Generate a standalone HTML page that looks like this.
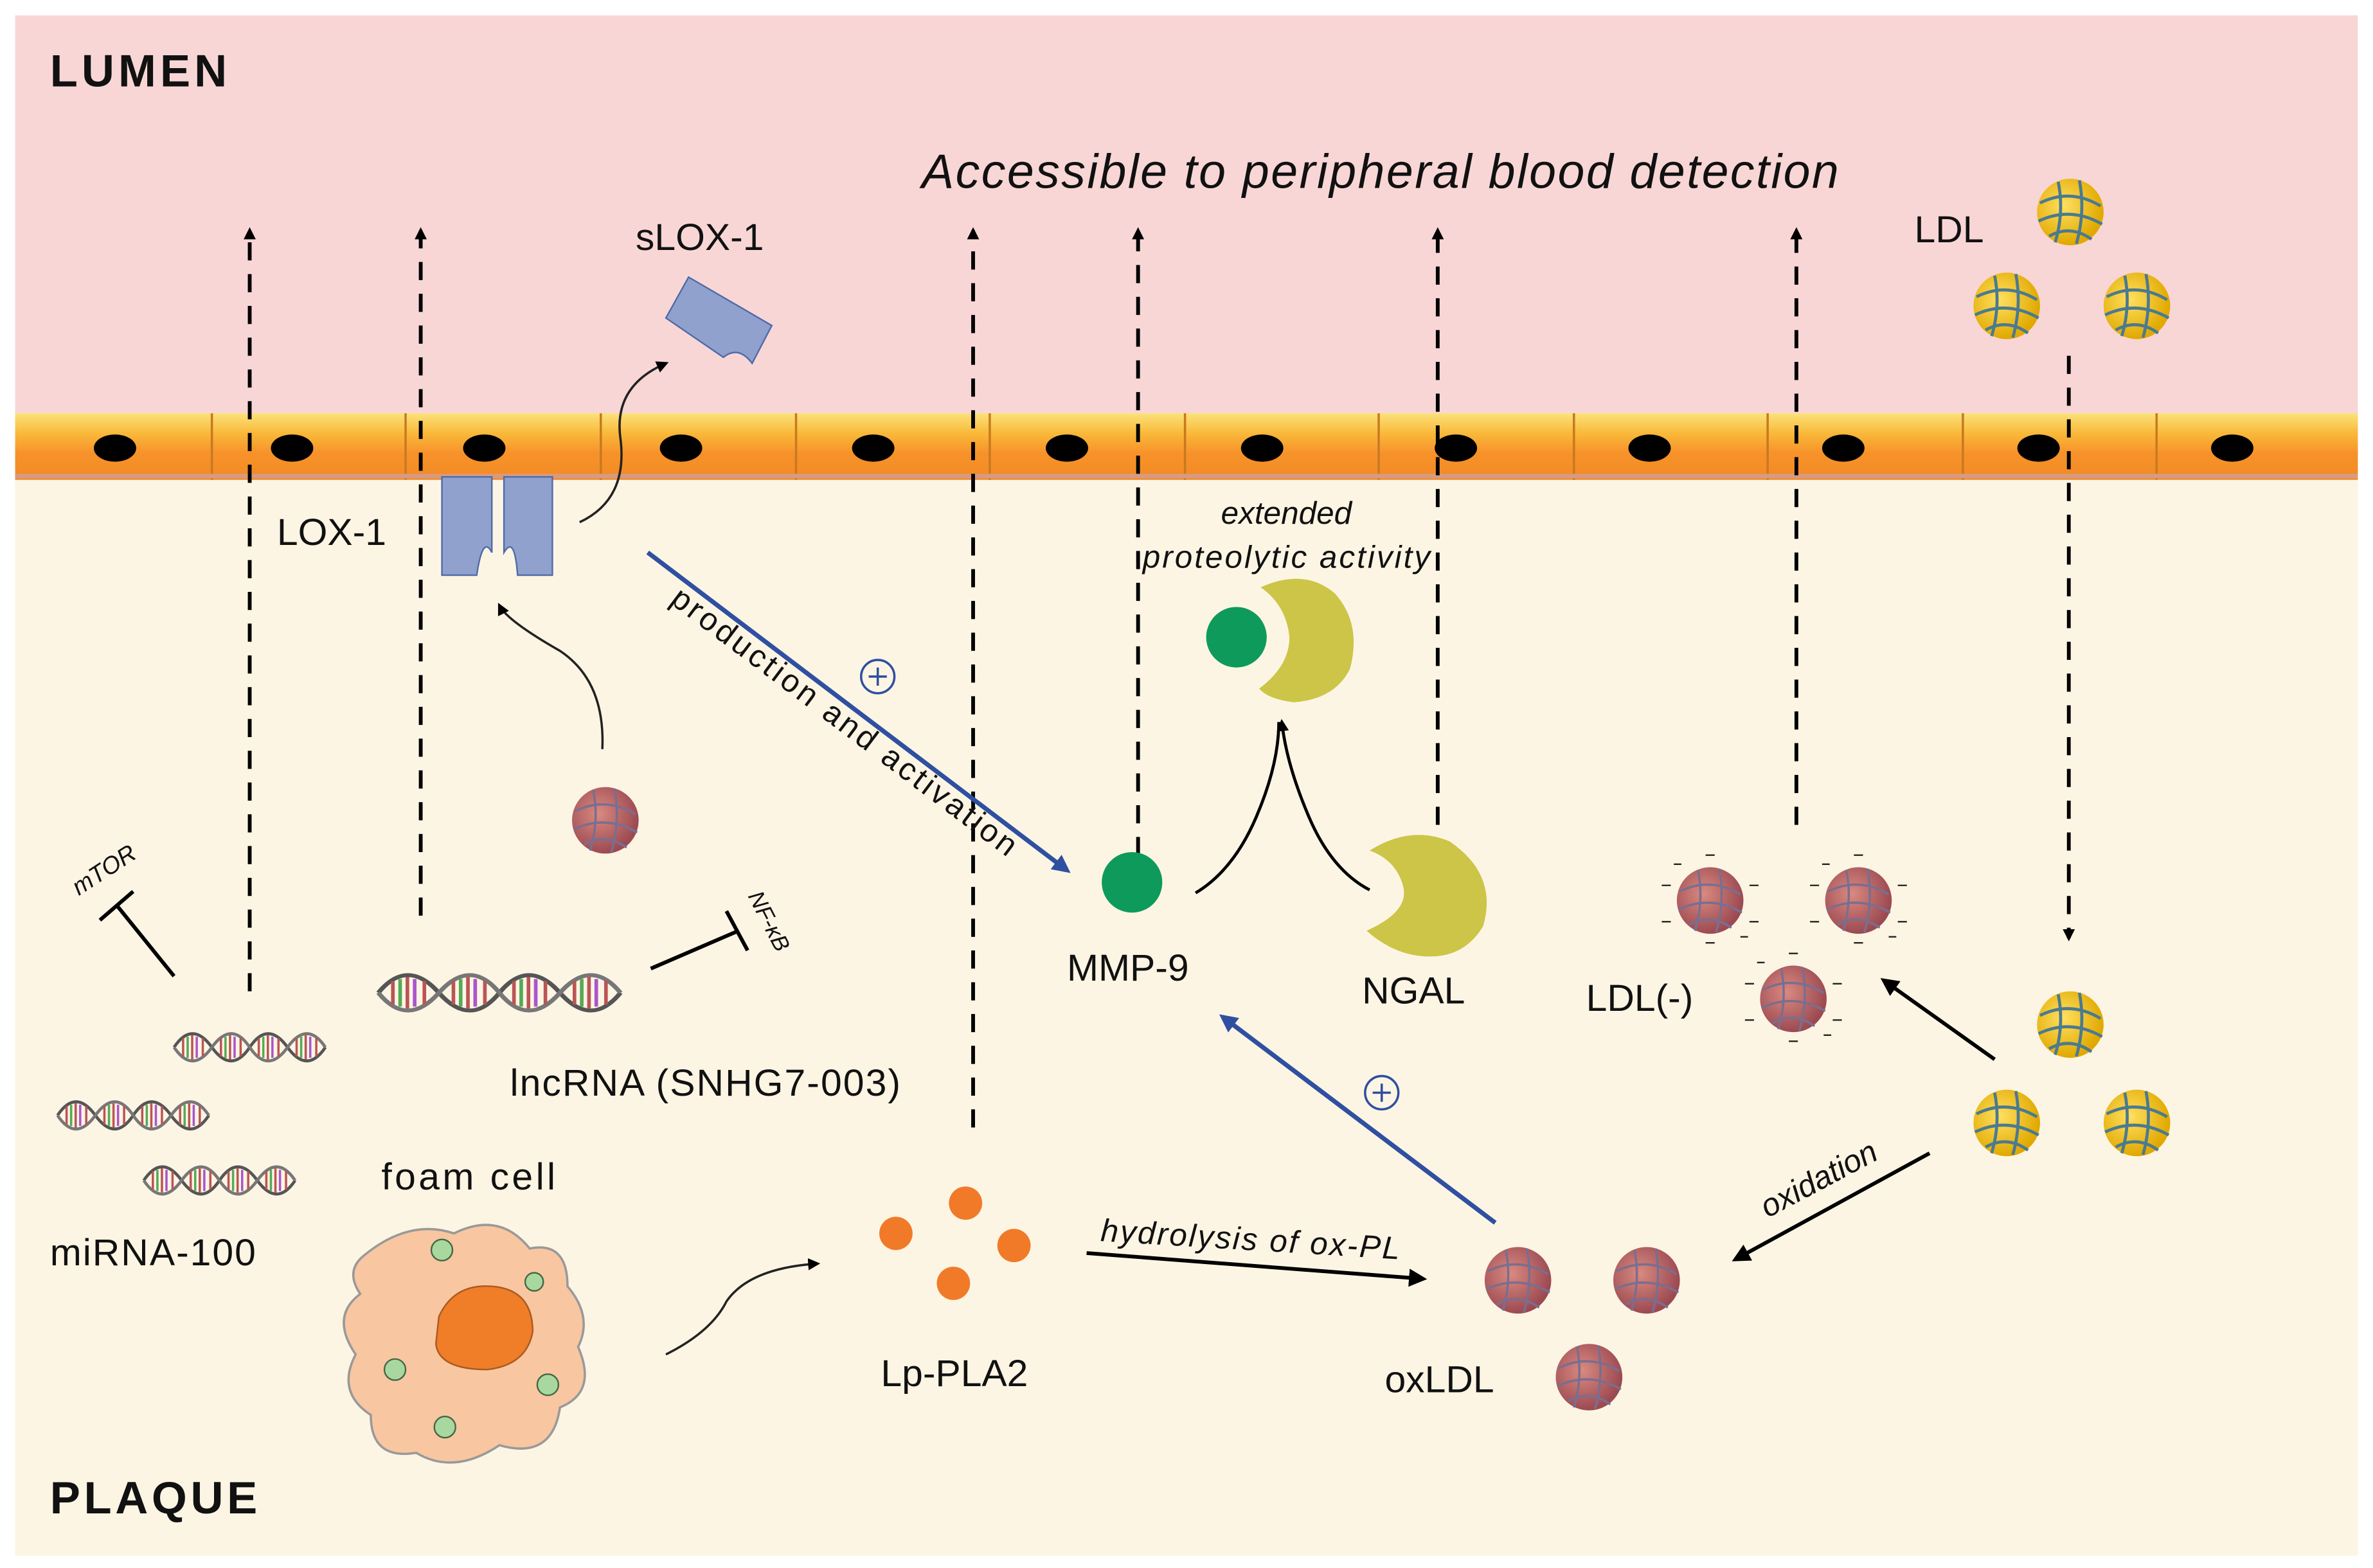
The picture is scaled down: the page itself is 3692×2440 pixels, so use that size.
<!DOCTYPE html>
<html><head><meta charset="utf-8"><style>html,body{margin:0;padding:0;background:#fff}svg{display:block}</style></head>
<body>
<svg width="3692" height="2440" viewBox="0 0 1568 1036" xmlns="http://www.w3.org/2000/svg" font-family="Liberation Sans, Arial, sans-serif">
<defs>
<linearGradient id="cell" x1="0" y1="0" x2="0" y2="1">
<stop offset="0" stop-color="#fbe27a"/><stop offset="0.3" stop-color="#f9b93a"/><stop offset="0.6" stop-color="#f7922a"/><stop offset="1" stop-color="#f28a24"/></linearGradient>
<radialGradient id="yel" cx="0.4" cy="0.4" r="0.6"><stop offset="0" stop-color="#ffe060"/><stop offset="1" stop-color="#e0a800"/></radialGradient>
<radialGradient id="red" cx="0.4" cy="0.4" r="0.6"><stop offset="0" stop-color="#d98a80"/><stop offset="1" stop-color="#9c4a52"/></radialGradient>
<marker id="ah" markerWidth="8" markerHeight="8" refX="6" refY="4" orient="auto" markerUnits="userSpaceOnUse"><path d="M0,0 L8,4 L0,8 Z" fill="#000"/></marker>
<marker id="ahb" markerWidth="12" markerHeight="12" refX="9" refY="6" orient="auto" markerUnits="userSpaceOnUse"><path d="M0,0 L12,6 L0,12 Z" fill="#2f4fa0"/></marker>
<marker id="ahk" markerWidth="12" markerHeight="12" refX="9" refY="6" orient="auto" markerUnits="userSpaceOnUse"><path d="M0,0 L12,6 L0,12 Z" fill="#000"/></marker>
<g id="yp"><circle r="22" fill="url(#yel)"/><path d="M-20,-6 Q0,-16 20,-4 M-21,6 Q0,-4 21,8 M-14,16 Q0,8 14,18 M-8,-20 Q-4,0 -10,20 M6,-21 Q10,0 4,21" fill="none" stroke="#4a7a90" stroke-width="2"/></g>
<g id="rp"><circle r="22" fill="url(#red)"/><path d="M-20,-6 Q0,-16 20,-4 M-21,6 Q0,-4 21,8 M-14,16 Q0,8 14,18 M-8,-20 Q-4,0 -10,20 M6,-21 Q10,0 4,21" fill="none" stroke="#7a6e90" stroke-width="1.5"/></g>
<g id="rpd"><use href="#rp"/><path d="M-32,-10h6M26,-10h6M-32,14h6M26,14h6M-3,-30h6M-3,28h6M-24,-24h5M20,24h5" stroke="#222" stroke-width="1"/></g>
<g id="helix"><path d="M0,0 q12,-18 25,0 t25,0 t25,0 t25,0" fill="none" stroke="#555" stroke-width="2"/><path d="M0,0 q12,18 25,0 t25,0 t25,0 t25,0" fill="none" stroke="#777" stroke-width="2"/><path d="M6,-6v12M12,-8v16M19,-6v12M31,-6v12M37,-8v16M44,-6v12M56,-6v12M62,-8v16M69,-6v12M81,-6v12M87,-8v16M94,-6v12" stroke="#b55" stroke-width="1.5"/><path d="M9,-7v14M34,-7v14M59,-7v14M84,-7v14" stroke="#5a5" stroke-width="1.5"/><path d="M15,-7v14M40,-7v14M65,-7v14M90,-7v14" stroke="#a5c" stroke-width="1.5"/></g>
</defs>
<rect x="0" y="0" width="1568" height="1036" fill="#fff"/>
<rect x="10" y="10" width="1548" height="268" fill="#f9d6d6"/>
<rect x="10" y="312" width="1548" height="716" fill="#fdf5e4"/>
<g>
<rect x="10" y="273" width="1548" height="44" fill="url(#cell)"/>
<g fill="#000">
<ellipse cx="76" cy="296" rx="14" ry="9"/><ellipse cx="193" cy="296" rx="14" ry="9"/><ellipse cx="320" cy="296" rx="14" ry="9"/><ellipse cx="450" cy="296" rx="14" ry="9"/><ellipse cx="577" cy="296" rx="14" ry="9"/><ellipse cx="705" cy="296" rx="14" ry="9"/><ellipse cx="834" cy="296" rx="14" ry="9"/><ellipse cx="962" cy="296" rx="14" ry="9"/><ellipse cx="1090" cy="296" rx="14" ry="9"/><ellipse cx="1218" cy="296" rx="14" ry="9"/><ellipse cx="1347" cy="296" rx="14" ry="9"/><ellipse cx="1475" cy="296" rx="14" ry="9"/>
</g>
<g stroke="#c87a20" stroke-width="1.5">
<path d="M140,273v44M268,273v44M397,273v44M526,273v44M654,273v44M783,273v44M911,273v44M1040,273v44M1168,273v44M1297,273v44M1425,273v44"/>
</g>
<rect x="10" y="313" width="1548" height="3" fill="#d89a80"/>
</g>
<text x="33" y="57" font-size="30" font-weight="bold" fill="#111" textLength="117">LUMEN</text>
<text x="33" y="1000" font-size="30" font-weight="bold" fill="#111" textLength="137">PLAQUE</text>
<text x="912" y="124" font-size="32" font-style="italic" text-anchor="middle" fill="#111" textLength="606">Accessible to peripheral blood detection</text>
<g stroke="#000" stroke-width="2.5" stroke-dasharray="12,9" marker-end="url(#ah)" fill="none">
<path d="M165,655V152"/><path d="M278,605V152"/><path d="M643,745V152"/><path d="M752,565V152"/><path d="M950,545V152"/><path d="M1187,545V152"/><path d="M1367,235V620"/>
</g>
<text x="420" y="165" font-size="25" fill="#111">sLOX-1</text>
<path d="M455,183 L510,215 L497,240 Q488,228 478,236 L440,210 Z" fill="#8fa1cc" stroke="#4e6aa8" stroke-width="1"/>
<text x="183" y="360" font-size="25" fill="#111">LOX-1</text>
<path d="M292,315 h33 v50 q-6,-12 -10,15 h-23 Z" fill="#8fa1cc" stroke="#4e6aa8"/>
<path d="M333,315 h32 v65 h-23 q-2,-27 -9,-15 Z" fill="#8fa1cc" stroke="#4e6aa8"/>
<path d="M383,345 Q415,330 410,290 Q405,255 440,240" fill="none" stroke="#222" stroke-width="1.5" marker-end="url(#ah)"/>
<path d="M398,495 Q400,450 370,430 Q335,410 330,400" fill="none" stroke="#222" stroke-width="1.5" marker-end="url(#ah)"/>
<use href="#rp" x="400" y="542"/>
<path d="M428,365 L705,575" stroke="#2f4fa0" stroke-width="3" marker-end="url(#ahb)"/>
<text transform="translate(442,398) rotate(37)" font-size="21" fill="#111" textLength="280">production and activation</text>
<circle cx="580" cy="447" r="11" fill="none" stroke="#2f4fa0" stroke-width="1.5"/><path d="M574,447h12M580,441v12" stroke="#2f4fa0" stroke-width="1.5"/>
<circle cx="748" cy="583" r="20" fill="#0d9a5a"/>
<text x="705" y="648" font-size="25" fill="#111">MMP-9</text>
<path d="M905,562 Q932,545 958,556 Q990,578 980,612 Q968,632 945,632 Q922,632 903,615 Q932,602 927,585 Q922,568 905,562 Z" fill="#ccc548"/>
<text x="900" y="663" font-size="25" fill="#111">NGAL</text>
<path d="M790,590 Q815,575 830,540 Q845,505 845,477" fill="none" stroke="#000" stroke-width="2"/>
<path d="M905,588 Q880,575 865,540 Q850,505 847,477" fill="none" stroke="#000" stroke-width="2" marker-end="url(#ah)"/>
<circle cx="817" cy="421" r="20" fill="#0d9a5a"/>
<path d="M833,388 Q862,375 882,392 Q900,412 892,442 Q882,462 855,464 Q838,462 832,455 Q852,440 852,421 Q850,400 833,388 Z" fill="#ccc548"/>
<text x="850" y="346" font-size="21" font-style="italic" text-anchor="middle" fill="#111">extended</text>
<text x="850" y="375" font-size="21" font-style="italic" text-anchor="middle" fill="#111" textLength="190">proteolytic activity</text>
<path d="M115,645 L77,598" stroke="#000" stroke-width="2.5"/><path d="M66,608 L88,589" stroke="#000" stroke-width="2.5"/>
<text transform="translate(52,592) rotate(-33)" font-size="16" font-style="italic" fill="#111">mTOR</text>
<use href="#helix" x="115" y="692"/>
<use href="#helix" x="38" y="737"/>
<use href="#helix" x="95" y="780"/>
<g transform="translate(250,656) scale(1.6,1.3)"><use href="#helix"/></g>
<path d="M430,640 L488,615" stroke="#000" stroke-width="2.5"/><path d="M480,602 L494,628" stroke="#000" stroke-width="2.5"/>
<text transform="translate(494,592) rotate(63)" font-size="15" font-style="italic" fill="#111">NF-κB</text>
<text x="337" y="724" font-size="25" fill="#111" textLength="258">lncRNA (SNHG7-003)</text>
<text x="252" y="786" font-size="25" fill="#111" textLength="115">foam cell</text>
<text x="33" y="836" font-size="25" fill="#111" textLength="136">miRNA-100</text>
<path d="M240,830 Q270,805 300,815 Q330,800 350,825 Q375,820 375,850 Q392,870 382,890 Q395,920 370,930 Q365,965 330,955 Q300,975 275,960 Q245,965 245,935 Q222,920 235,895 Q218,870 238,855 Q228,840 240,830 Z" fill="#f8c6a0" stroke="#999" stroke-width="1.5"/>
<path d="M290,870 Q300,848 325,850 Q352,852 352,880 Q348,902 322,905 Q290,905 288,888 Z" fill="#f07d28" stroke="#a85a20"/>
<g fill="#a8d8a0" stroke="#446644"><circle cx="292" cy="826" r="7"/><circle cx="261" cy="905" r="7"/><circle cx="294" cy="943" r="7"/><circle cx="362" cy="915" r="7"/><circle cx="353" cy="847" r="6"/></g>
<path d="M440,895 Q470,880 480,860 Q495,838 540,835" fill="none" stroke="#222" stroke-width="1.5" marker-end="url(#ah)"/>
<g fill="#f07a28"><circle cx="592" cy="815" r="11"/><circle cx="638" cy="795" r="11"/><circle cx="670" cy="823" r="11"/><circle cx="630" cy="848" r="11"/></g>
<text x="582" y="916" font-size="25" fill="#111">Lp-PLA2</text>
<path d="M718,828 L940,845" stroke="#000" stroke-width="2.5" marker-end="url(#ahk)"/>
<text transform="translate(727,820) rotate(3.5)" font-size="21" font-style="italic" fill="#111" textLength="198">hydrolysis of ox-PL</text>
<use href="#rp" x="1003" y="846"/><use href="#rp" x="1088" y="846"/><use href="#rp" x="1050" y="910"/>
<text x="915" y="920" font-size="25" fill="#111">oxLDL</text>
<path d="M988,808 L808,672" stroke="#2f4fa0" stroke-width="3" marker-end="url(#ahb)"/>
<circle cx="913" cy="722" r="11" fill="none" stroke="#2f4fa0" stroke-width="1.5"/><path d="M907,722h12M913,716v12" stroke="#2f4fa0" stroke-width="1.5"/>
<text x="1048" y="668" font-size="25" fill="#111">LDL(-)</text>
<use href="#rpd" x="1130" y="595"/><use href="#rpd" x="1228" y="595"/><use href="#rpd" x="1185" y="660"/>
<path d="M1318,700 L1245,648" stroke="#000" stroke-width="2.5" marker-end="url(#ahk)"/>
<text x="1265" y="160" font-size="25" fill="#111">LDL</text>
<use href="#yp" x="1368" y="140"/><use href="#yp" x="1326" y="202"/><use href="#yp" x="1412" y="202"/>
<use href="#yp" x="1368" y="677"/><use href="#yp" x="1326" y="742"/><use href="#yp" x="1412" y="742"/>
<path d="M1275,762 L1147,832" stroke="#000" stroke-width="2.5" marker-end="url(#ahk)"/>
<text transform="translate(1168,805) rotate(-28)" font-size="21" font-style="italic" fill="#111">oxidation</text>
</svg>
</body></html>
